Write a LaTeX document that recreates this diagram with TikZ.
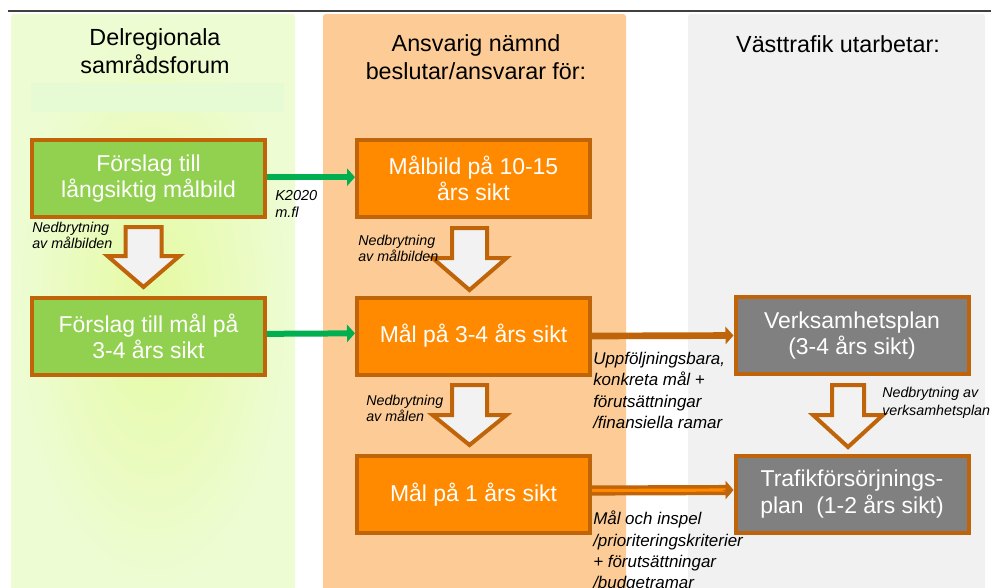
\documentclass[tikz,border=0pt]{standalone}
\usepackage{fontspec}
\setmainfont{Liberation Sans}
\usetikzlibrary{arrows.meta}
\definecolor{brn}{RGB}{192,100,10}
\definecolor{gbox}{RGB}{146,208,80}
\definecolor{obox}{RGB}{255,138,0}
\definecolor{graybox}{RGB}{128,128,128}
\definecolor{ocol}{RGB}{253,204,150}
\definecolor{gcol}{RGB}{241,241,241}
\definecolor{lgin}{RGB}{229,250,162}
\definecolor{lgout}{RGB}{238,252,212}
\definecolor{stripe}{RGB}{230,250,212}
\definecolor{garrow}{RGB}{0,176,80}
\definecolor{barfill}{RGB}{242,242,242}
\begin{document}
\begin{tikzpicture}[x=0.75pt,y=-0.75pt,
  box/.style={draw=brn, line width=3pt, minimum width=174.75pt, minimum height=57.75pt,
    text=white, align=center, font=\fontsize{17.2}{20}\selectfont, inner sep=0pt},
  greenbox/.style={box, fill=gbox},
  orangebox/.style={box, fill=obox},
  graybx/.style={box, fill=graybox},
  header/.style={align=center, font=\fontsize{17.5}{20.5}\selectfont, inner sep=0pt},
  smalllbl/.style={anchor=north west, align=left, inner sep=0pt, font=\fontsize{10.7}{12}\selectfont\itshape},
  midlbl/.style={anchor=north west, align=left, inner sep=0pt, font=\fontsize{12.7}{16}\selectfont\itshape},
  blockarrow/.style={draw=brn, fill=barfill, line width=3pt, line join=miter},
  greenconn/.style={draw=garrow, line width=4.5pt, -{Triangle[length=6pt,width=13pt]}},
  brownconn/.style={draw=brn, line width=5pt, -{Triangle[length=6pt,width=13pt]}},
  column/.style={rounded corners=2pt}
]
\useasboundingbox (0,0) rectangle (991,587);
\fill[white] (0,0) rectangle (991,587);
% columns
\shade[column, inner color=lgin, outer color=lgout] (11,14) rectangle (295,590);
\fill[stripe] (31,83) rectangle (284,112);
\fill[column, ocol] (323,14) rectangle (626,590);
\fill[column, gcol] (688,14) rectangle (985,590);
% top rule
\draw[line width=1.1pt, black!75] (8,11) -- (991,11);
% headers
\node[header] (h1) at (155,51) {Delregionala\\samrådsforum};
\node[header] (h2) at (476,57) {Ansvarig nämnd\\beslutar/ansvarar för:};
\node[header] (h3) at (838,44) {Västtrafik utarbetar:};
% boxes
\node[greenbox] (g1) at (148.5,178.5) {Förslag till\\långsiktig målbild};
\node[greenbox] (g2) at (148.5,336.5) {Förslag till mål på\\3-4 års sikt};
\node[orangebox] (o1) at (473.5,178.5) {Målbild på 10-15\\års sikt};
\node[orangebox] (o2) at (473.5,336) {Mål på 3-4 års sikt};
\node[orangebox] (o3) at (473.5,494.5) {Mål på 1 års sikt};
\node[graybx] (v1) at (852,335.5) {Verksamhetsplan\\(3-4 års sikt)};
\node[graybx] (t1) at (852,494) {Trafikförsörjnings-\\plan\ \ (1-2 års sikt)};
% block arrows
\draw[blockarrow] (125.5,227) -- (161.5,227) -- (161.5,256) -- (179.5,256) -- (143.5,287) -- (107.5,256) -- (125.5,256) -- cycle;
\draw[blockarrow] (452,228) -- (487,228) -- (487,258) -- (506.5,258) -- (469.5,290) -- (432.5,258) -- (452,258) -- cycle;
\draw[blockarrow] (452,385) -- (487,385) -- (487,415) -- (506.5,415) -- (469.5,445) -- (432.5,415) -- (452,415) -- cycle;
\draw[blockarrow] (832,385) -- (864,385) -- (864,415) -- (883,415) -- (848,447) -- (813,415) -- (832,415) -- cycle;
% connectors
\draw[greenconn] ([yshift=1pt]g1.east) -- ([yshift=1pt]o1.west);
\draw[greenconn] ([yshift=2pt]g2.east) -- ([yshift=2pt]o2.west);
\draw[brownconn] (o2.east) -- (v1.west);
\draw[draw=brn, line width=2.6pt, double=obox, double distance=2.4pt, shorten >=5pt] ([yshift=3pt]o3.east) -- ([yshift=3pt]t1.west);
\draw[draw=brn, line width=0.5pt, -{Triangle[length=6pt,width=14pt]}] ([xshift=-8pt,yshift=3pt]t1.west) -- ([yshift=3pt]t1.west);
% labels
\node[smalllbl, font=\fontsize{10.9}{12.75}\selectfont\itshape] (k) at (275,190) {K2020\\m.fl};
\node[smalllbl] (n1) at (32,222) {Nedbrytning\\av målbilden};
\node[smalllbl] (n2) at (358,235) {Nedbrytning\\av målbilden};
\node[smalllbl] (n3) at (366,395) {Nedbrytning\\av målen};
\node[smalllbl, font=\fontsize{10.7}{13.5}\selectfont\itshape] (n4) at (882,387) {Nedbrytning av\\verksamhetsplan};
\node[midlbl] (u) at (593,352) {Uppföljningsbara,\\konkreta mål +\\förutsättningar\\/finansiella ramar};
\node[midlbl] (m) at (593,511) {Mål och inspel\\/prioriteringskriterier\\+ förutsättningar\\/budgetramar};
\end{tikzpicture}
\end{document}
